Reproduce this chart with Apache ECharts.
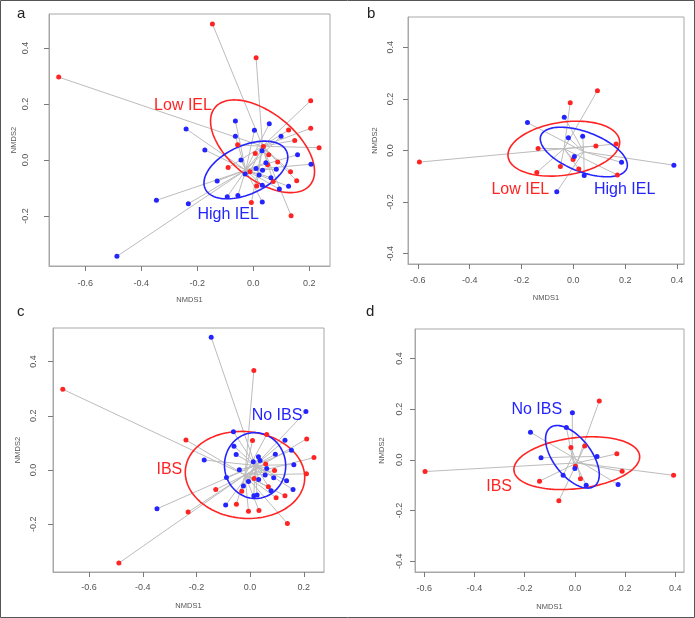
<!DOCTYPE html>
<html lang="en">
<head>
<meta charset="UTF-8">
<title>NMDS IEL / IBS</title>
<script src="https://cdn.jsdelivr.net/npm/echarts@6.0.0/dist/echarts.min.js"></script>
<style>
    html, body { margin: 0; padding: 0; background: #fff; }
    #chart { width: 695px; height: 618px; }
</style>
</head>
<body>
<div id="chart"></div>
<script>
    // tick values
    var ticksX1 = [-0.6, -0.4, -0.2, 0.0, 0.2];
    var ticksX2 = [-0.6, -0.4, -0.2, 0.0, 0.2, 0.4];
    var ticksY1 = [-0.2, 0.0, 0.2, 0.4];
    var ticksY2 = [-0.4, -0.2, 0.0, 0.2, 0.4];

    // panel a : IEL, all samples
    var aLow = [[-0.146, 0.486], [0.010, 0.365], [-0.695, 0.296], [0.205, 0.212], [0.205, 0.113], [0.126, 0.107],
        [0.148, 0.070], [0.235, 0.044], [-0.056, 0.054], [0.036, 0.048], [0.007, 0.023], [0.055, 0.019],
        [0.087, -0.007], [0.051, -0.017], [-0.090, -0.027], [0.133, -0.042], [0.155, -0.074], [0.071, -0.077],
        [0.012, -0.093], [-0.007, -0.152], [0.135, -0.199], [-0.012, -0.042]];
    var aHigh = [[-0.064, 0.139], [0.057, 0.129], [-0.240, 0.111], [0.004, 0.106], [-0.064, 0.085], [0.099, 0.085],
        [-0.173, 0.036], [0.031, 0.033], [0.158, 0.019], [0.206, -0.015], [-0.044, 0.000], [0.045, -0.010],
        [0.010, -0.030], [0.033, -0.037], [0.082, -0.033], [-0.029, -0.050], [0.021, -0.054], [0.063, -0.063],
        [-0.129, -0.075], [0.032, -0.090], [0.093, -0.104], [0.126, -0.094], [-0.093, -0.131], [-0.055, -0.127],
        [0.032, -0.150], [-0.346, -0.144], [-0.232, -0.156], [-0.487, -0.344]];
    var aCentres = [[0.033, 0.049], [-0.027, -0.036]];
    // ellipse: cx, cy, semi-major, semi-minor, angle (deg)
    var aEllipses = [[0.033, 0.049, 0.219, 0.118, -39], [-0.0265, -0.0357, 0.160, 0.0860, 24.8]];
    var aLabels = [[-0.251, 0.193], [-0.090, -0.196]];

    // panel b : IEL, subset
    var bLow = [[-0.594, -0.045], [0.093, 0.232], [-0.012, 0.185], [-0.136, 0.008], [0.087, 0.017], [0.165, 0.025],
        [-0.001, -0.035], [-0.050, -0.062], [0.021, -0.072], [-0.141, -0.085], [0.170, -0.095]];
    var bHigh = [[-0.177, 0.108], [-0.035, 0.129], [-0.019, 0.049], [0.036, 0.055], [0.004, -0.023], [0.186, -0.046],
        [0.042, -0.097], [-0.064, -0.160], [0.388, -0.057]];
    var bCentres = [[-0.036, 0.007], [0.040, -0.005]];
    var bEllipses = [[-0.0367, 0.0071, 0.2173, 0.1026, 8.5], [0.0405, -0.0058, 0.1775, 0.077, -21]];
    var bLabels = [[-0.2045, -0.1535], [0.198, -0.1535]];

    // panel c : IBS, all samples
    var cIbs = [[-0.698, 0.298], [0.014, 0.367], [-0.239, 0.111], [0.211, 0.115], [0.062, 0.131], [0.009, 0.109],
        [0.238, 0.046], [0.210, -0.014], [0.058, 0.022], [0.091, -0.002], [-0.128, -0.072], [-0.031, -0.078],
        [0.068, -0.062], [0.130, -0.095], [0.097, -0.102], [-0.051, -0.126], [-0.006, -0.152], [0.033, -0.149],
        [-0.231, -0.155], [0.139, -0.197], [-0.489, -0.343], [0.015, -0.031]];
    var cNo = [[-0.145, 0.490], [0.208, 0.216], [-0.062, 0.141], [0.130, 0.110], [-0.060, 0.088], [-0.052, 0.057],
        [0.094, 0.058], [0.154, 0.073], [-0.171, 0.037], [0.031, 0.049], [0.163, 0.020], [-0.040, 0.001],
        [-0.088, -0.027], [0.037, 0.035], [-0.006, -0.042], [0.032, -0.035], [0.056, -0.018], [0.088, -0.028],
        [0.136, -0.039], [0.160, -0.072], [0.078, -0.076], [0.026, -0.092], [0.014, -0.095], [-0.091, -0.129],
        [-0.347, -0.143], [-0.025, -0.059], [0.012, 0.031], [0.062, 0.006]];
    var cCentres = [[-0.019, -0.018], [0.019, 0.017]];
    var cEllipses = [[-0.019, -0.018, 0.223, 0.160, -5], [0.0186, 0.0166, 0.1215, 0.114, 95]];
    var cLabels = [[-0.301, 0.0], [0.1005, 0.1998]];

    // panel d : IBS, subset
    var dIbs = [[-0.597, -0.046], [0.097, 0.232], [-0.016, 0.049], [0.039, 0.055], [0.167, 0.024], [0.002, -0.025],
        [0.188, -0.045], [0.022, -0.074], [-0.141, -0.084], [-0.064, -0.161], [0.393, -0.061]];
    var dNo = [[-0.177, 0.109], [-0.034, 0.128], [-0.010, 0.186], [-0.135, 0.008], [0.088, 0.013], [0.000, -0.034],
        [-0.047, -0.061], [0.045, -0.100], [0.172, -0.097]];
    var dCentres = [[0.008, -0.012], [-0.011, 0.012]];
    var dEllipses = [[0.0074, -0.013, 0.252, 0.1004, 6.8], [-0.010, 0.012, 0.145, 0.075, -52]];
    var dLabels = [[-0.302, -0.107], [-0.152, 0.199]];

    var RED = '#ff2424';
    var BLUE = '#2424ff';
    var FONT = '"Liberation Sans", Arial, sans-serif';

    var chart = echarts.init(document.getElementById('chart'));

    function fmt(v) {
        return v.toFixed(1);
    }

    function axisOf(i, name, min, max, ticks, margin, gap, rotate) {
        return {
            type: 'value', gridIndex: i, min: min, max: max,
            name: name, nameLocation: 'middle', nameGap: gap,
            nameTextStyle: { fontSize: 7.5, color: '#555', fontFamily: FONT },
            axisLine: { show: true, onZero: false, lineStyle: { color: '#a8a8a8', width: 1 } },
            splitLine: { show: false },
            axisTick: { show: true, inside: false, length: 5, customValues: ticks, lineStyle: { color: '#7a7a7a', width: 1 } },
            axisLabel: { customValues: ticks, formatter: fmt, fontSize: 9, color: '#555', margin: margin, rotate: rotate, fontFamily: FONT }
        };
    }

    function spider(i, pts, centre) {
        return {
            type: 'custom', xAxisIndex: i, yAxisIndex: i, data: pts, silent: true, z: 1,
            renderItem: function (params, api) {
                var p = api.coord([api.value(0), api.value(1)]);
                var c = api.coord(centre);
                return {
                    type: 'line',
                    shape: { x1: p[0], y1: p[1], x2: c[0], y2: c[1] },
                    style: { stroke: '#bcbcbc', lineWidth: 1 }
                };
            }
        };
    }

    function ellipse(i, e, color) {
        return {
            type: 'custom', xAxisIndex: i, yAxisIndex: i, data: [[e[0], e[1]]], silent: true, z: 2,
            renderItem: function (params, api) {
                var t = e[4] * Math.PI / 180;
                var pts = [];
                for (var k = 0; k <= 120; k++) {
                    var u = k / 120 * 2 * Math.PI;
                    var dx = e[2] * Math.cos(u), dy = e[3] * Math.sin(u);
                    pts.push(api.coord([e[0] + dx * Math.cos(t) - dy * Math.sin(t),
                        e[1] + dx * Math.sin(t) + dy * Math.cos(t)]));
                }
                return { type: 'polyline', shape: { points: pts }, style: { stroke: color, lineWidth: 1.6, fill: null } };
            }
        };
    }

    function points(i, pts, color) {
        return {
            type: 'scatter', xAxisIndex: i, yAxisIndex: i, data: pts, symbolSize: 5, z: 3, silent: true,
            itemStyle: { color: color, opacity: 1 }
        };
    }

    function label(i, pos, text, color) {
        return {
            type: 'custom', xAxisIndex: i, yAxisIndex: i, data: [pos], silent: true, z: 4,
            renderItem: function (params, api) {
                var p = api.coord([api.value(0), api.value(1)]);
                return {
                    type: 'text', x: p[0], y: p[1],
                    style: { text: text, fill: color, fontSize: 16, fontFamily: FONT, align: 'center', verticalAlign: 'middle' }
                };
            }
        };
    }

    function panel(i, g1, g2, centres, ellipses, labels, names) {
        return [
            spider(i, g1, centres[0]), spider(i, g2, centres[1]),
            ellipse(i, ellipses[0], RED), ellipse(i, ellipses[1], BLUE),
            points(i, g1, RED), points(i, g2, BLUE),
            label(i, labels[0], names[0], RED), label(i, labels[1], names[1], BLUE)
        ];
    }

    var gridStyle = { show: true, borderColor: '#a8a8a8', borderWidth: 1, backgroundColor: 'transparent', outerBoundsMode: 'none' };

    var option = {
        backgroundColor: '#fff',
        animation: false,
        grid: [
            Object.assign({ left: 49, top: 14, width: 281, height: 252 }, gridStyle),
            Object.assign({ left: 408, top: 17, width: 276, height: 247 }, gridStyle),
            Object.assign({ left: 53, top: 328, width: 271, height: 244 }, gridStyle),
            Object.assign({ left: 415, top: 329, width: 269, height: 243 }, gridStyle)
        ],
        xAxis: [
            axisOf(0, 'NMDS1', -0.7296, 0.2739, ticksX1, 13, 30, 0),
            axisOf(1, 'NMDS1', -0.638, 0.427, ticksX2, 12, 30, 0),
            axisOf(2, 'NMDS1', -0.7345, 0.2754, ticksX1, 11, 30, 0),
            axisOf(3, 'NMDS1', -0.637, 0.4345, ticksX2, 12, 31, 0)
        ],
        yAxis: [
            axisOf(0, 'NMDS2', -0.3786, 0.5214, ticksY1, 19, 31, 90),
            axisOf(1, 'NMDS2', -0.44, 0.5174, ticksY2, 13, 29, 90),
            axisOf(2, 'NMDS2', -0.376, 0.524, ticksY1, 15, 31, 90),
            axisOf(3, 'NMDS2', -0.442, 0.5158, ticksY2, 11, 29, 90)
        ],
        graphic: [
            { type: 'rect', shape: { x: 0.5, y: 0.5, width: 694, height: 617 }, style: { fill: null, stroke: '#555', lineWidth: 1 } },
            { type: 'text', x: 17, y: 6, style: { text: 'a', fontSize: 15, fill: '#222', fontFamily: FONT } },
            { type: 'text', x: 367, y: 6, style: { text: 'b', fontSize: 15, fill: '#222', fontFamily: FONT } },
            { type: 'text', x: 17, y: 304, style: { text: 'c', fontSize: 15, fill: '#222', fontFamily: FONT } },
            { type: 'text', x: 366, y: 304, style: { text: 'd', fontSize: 15, fill: '#222', fontFamily: FONT } }
        ],
        series: [].concat(
            panel(0, aLow, aHigh, aCentres, aEllipses, aLabels, ['Low IEL', 'High IEL']),
            panel(1, bLow, bHigh, bCentres, bEllipses, bLabels, ['Low IEL', 'High IEL']),
            panel(2, cIbs, cNo, cCentres, cEllipses, cLabels, ['IBS', 'No IBS']),
            panel(3, dIbs, dNo, dCentres, dEllipses, dLabels, ['IBS', 'No IBS'])
        )
    };

    chart.setOption(option);
</script>
</body>
</html>
